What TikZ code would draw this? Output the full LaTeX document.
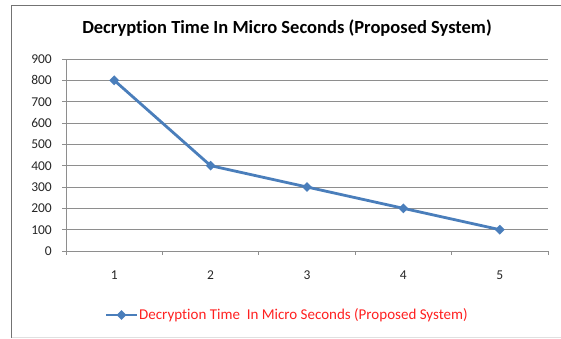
\documentclass[tikz,border=0pt]{standalone}
\usepackage{fontspec}
\setmainfont{Carlito}[Ligatures=NoCommon]
\usetikzlibrary{shapes.geometric}
\definecolor{series}{HTML}{4A7EBB}
\definecolor{gridgray}{HTML}{8E8E8E}
\definecolor{legendred}{HTML}{FF2020}
\begin{document}
\begin{tikzpicture}[x=1pt,y=-1pt,
  gridline/.style={draw=gridgray, line width=1pt},
  axisline/.style={draw=gridgray, line width=1pt},
  datamark/.style={diamond, fill=series, inner sep=0pt, minimum width=10pt, minimum height=10pt},
  seriesline/.style={draw=series, line width=2.8pt, line join=round},
  ticklabel/.style={font=\fontsize{13.5}{16}\selectfont, text=black!85, inner sep=0pt},
  titletext/.style={font=\bfseries\fontsize{18.5}{22}\selectfont, inner sep=0pt},
  legendtext/.style={font=\fontsize{15}{18}\selectfont, text=legendred, inner sep=0pt}
]
\useasboundingbox (0,0) rectangle (561,338);
% chart frame
\draw[draw=black!55, line width=1pt] (11.5,338) -- (11.5,5.5) -- (561,5.5);
\draw[draw=black!12, line width=1pt] (11.5,337) -- (561,337);

% title
\node[titletext] (title) at (287,28) {Decryption Time In Micro Seconds (Proposed System)};

% horizontal gridlines and value labels
\foreach \v in {0,100,...,900} {
  \pgfmathsetmacro{\yy}{251-\v*0.21333}
  \ifnum\v>0 \draw[gridline] (66,\yy) -- (548,\yy); \fi
  \draw[axisline] (62,\yy) -- (66,\yy);
  \node[ticklabel, anchor=east] (ylab\v) at (52,\yy) {\v};
}
% axes
\draw[axisline] (66,59) -- (66,251);
\draw[axisline] (66,251) -- (548,251);
\foreach \i in {0,...,5} {
  \draw[axisline] ({66+96.4*\i},251) -- ({66+96.4*\i},255);
}
\foreach \i in {1,...,5} {
  \node[ticklabel] (xlab\i) at ({17.8+96.4*\i},275) {\i};
}

% data series
\coordinate (p1) at (114.2,{251-800*0.21333});
\coordinate (p2) at (210.6,{251-400*0.21333});
\coordinate (p3) at (307.0,{251-300*0.21333});
\coordinate (p4) at (403.4,{251-200*0.21333});
\coordinate (p5) at (499.8,{251-100*0.21333});
\draw[seriesline] (p1) -- (p2) -- (p3) -- (p4) -- (p5);
\foreach \k in {1,...,5} { \node[datamark] (m\k) at (p\k) {}; }

% legend
\coordinate (legA) at (106,315);
\coordinate (legB) at (137,315);
\draw[seriesline] (legA) -- (legB);
\node[datamark] (legmark) at (121.5,315) {};
\node[legendtext, anchor=west] (legtext) at (139,315) {Decryption Time\ \ In Micro Seconds (Proposed System)};
\end{tikzpicture}
\end{document}
